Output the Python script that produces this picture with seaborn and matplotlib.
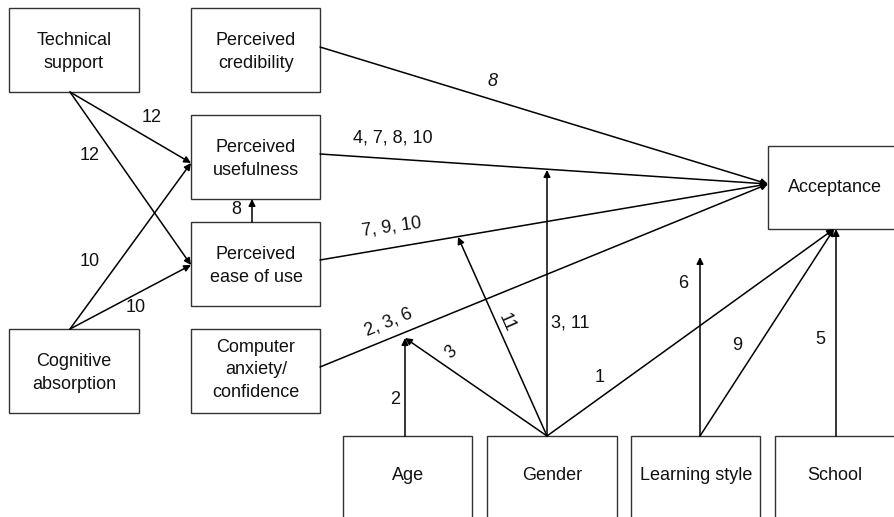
import matplotlib
matplotlib.use("Agg")
import matplotlib.pyplot as plt
import seaborn as sns

sns.set_theme(style="white")
plt.rcParams["font.family"] = ["Liberation Sans", "DejaVu Sans"]

# Boxes: name, x0, y0, x1, y1 (pixel coordinates, y downward)
box_labels = ["Technical\nsupport", "Perceived\ncredibility", "Perceived\nusefulness",
              "Perceived\nease of use", "Cognitive\nabsorption", "Computer\nanxiety/\nconfidence",
              "Acceptance", "Age", "Gender", "Learning style", "School"]
box_x0 = [9, 191, 191, 191, 9, 191, 768, 343, 487, 631, 775]
box_y0 = [8, 8, 115, 222, 329, 329, 146, 436, 436, 436, 436]
box_x1 = [139, 320, 320, 320, 139, 320, 902, 472, 617, 760, 896]
box_y1 = [92, 92, 199, 306, 413, 413, 229, 530, 530, 530, 530]
box_cx = [74, 256, 256, 256, 74, 256, 835, 408, 552, 696, 835]
box_cy = [52, 52, 159, 266, 373, 370, 187, 475, 475, 475, 475]

# Edges: start, end
edge_start = [(70, 92), (70, 92), (70, 329), (70, 329), (252, 222),
              (320, 47), (320, 154), (320, 260), (320, 367),
              (405, 436), (547, 436), (547, 436), (547, 436), (547, 436),
              (700, 436), (700, 436), (836, 436)]
edge_end = [(191, 163), (191, 265), (191, 163), (191, 265), (252, 199),
            (768, 184), (768, 184), (768, 184), (768, 184),
            (405, 338), (405, 338), (458, 237), (547, 170), (834, 229),
            (700, 257), (834, 229), (836, 229)]

# Edge labels: text, x, y, rotation, italic
lab_text = ["12", "12", "10", "10", "8", "8", "4, 7, 8, 10", "7, 9, 10", "2, 3, 6",
            "2", "3", "11", "3, 11", "1", "6", "9", "5"]
lab_x = [152, 90, 90, 136, 236, 493, 393, 392, 388, 395, 451, 507, 570, 600, 683, 737, 820]
lab_y = [117, 155, 262, 308, 209, 82, 138, 227, 322, 400, 352, 323, 323, 377, 284, 346, 339]
lab_rot = [0, 0, 0, 0, 0, 0, 0, 8, 22, 0, 50, -66, 0, 0, 0, 0, 0]
lab_italic = [False, False, False, False, False, True, False, False, False,
              False, True, False, False, False, False, False, False]

W, H = 894, 517
fig = plt.figure(figsize=(W / 100, H / 100), dpi=100)
ax = fig.add_axes([0, 0, 1, 1])
ax.set_xlim(0, W)
ax.set_ylim(H, 0)
ax.axis("off")

for lab, x0, y0, x1, y1, cx, cy in zip(box_labels, box_x0, box_y0, box_x1, box_y1,
                                        box_cx, box_cy):
    ax.add_patch(plt.Rectangle((x0, y0), x1 - x0, y1 - y0, fill=False,
                               edgecolor="#333333", lw=1.0, clip_on=True))
    ax.text(cx, cy, lab, ha="center", va="center", fontsize=13,
            color="#111111", linespacing=1.45)

for (sx, sy), (ex, ey) in zip(edge_start, edge_end):
    ax.annotate("", xy=(ex, ey), xytext=(sx, sy),
                arrowprops=dict(arrowstyle="-|>", color="black", lw=1.1,
                                mutation_scale=10, shrinkA=0, shrinkB=0))

for t, x, y, r, it in zip(lab_text, lab_x, lab_y, lab_rot, lab_italic):
    ax.text(x, y, t, ha="center", va="center", fontsize=13, rotation=r,
            style="italic" if it else "normal", color="#111111",
            rotation_mode="anchor")

fig.savefig("out.png", dpi=100, facecolor="white")
